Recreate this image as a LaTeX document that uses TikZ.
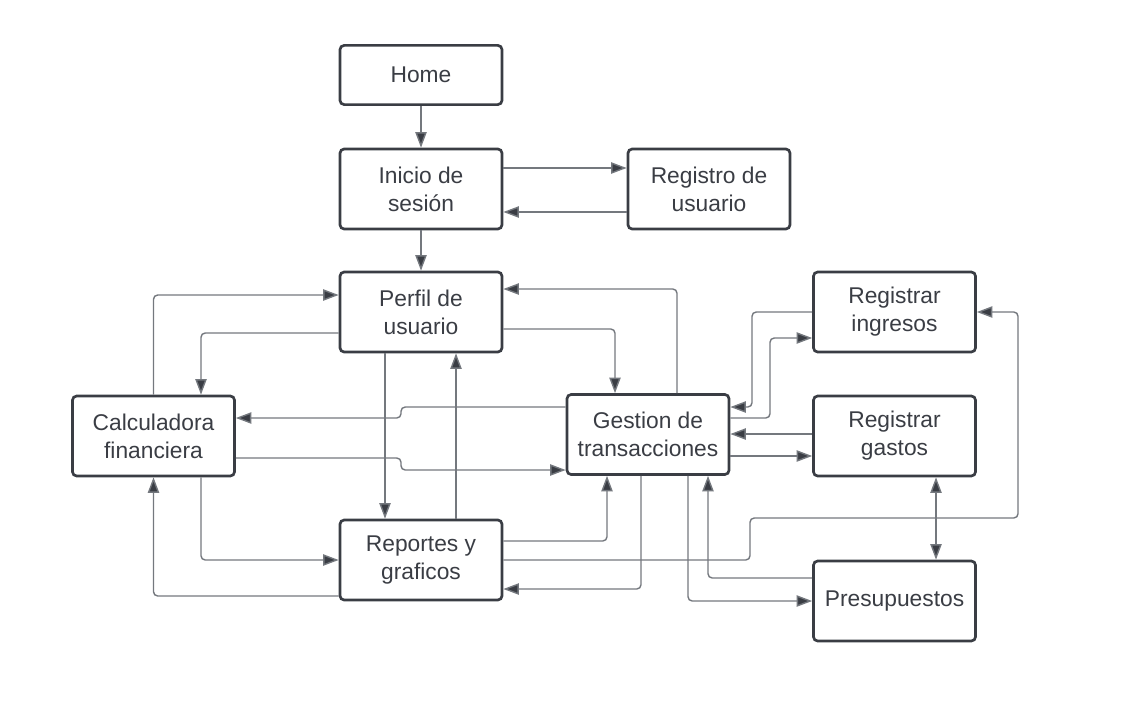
\documentclass[tikz,border=0pt]{standalone}
\usepackage{fontspec}
\setmainfont{Liberation Sans}
\usetikzlibrary{arrows.meta}
\definecolor{boxline}{HTML}{3A3D44}
\definecolor{linkline}{HTML}{74787E}
\definecolor{txt}{HTML}{3A3D44}
\begin{document}
\begin{tikzpicture}[x=0.025cm,y=-0.025cm,
  box/.style={draw=boxline, line width=1.9pt, rounded corners=3pt, align=center,
    minimum width=4.05cm, minimum height=2.0cm, text=txt,
    font=\fontsize{16.2}{20}\selectfont},
  link/.style={draw=linkline, line width=1pt, rounded corners=3pt,
    -{Triangle[length=11pt,width=8pt,fill=boxline]}},
  both/.style={link, {Triangle[length=11pt,width=8pt,fill=boxline]}-{Triangle[length=11pt,width=8pt,fill=boxline]}}]
\useasboundingbox (0,0) rectangle (1124,716);

\node[box, minimum height=1.48cm] (home) at (421,75) {Home};
\node[box] (inicio) at (421,189) {Inicio de\\sesión};
\node[box] (registro) at (709,189) {Registro de\\usuario};
\node[box] (perfil) at (421,312) {Perfil de\\usuario};
\node[box] (ingresos) at (894.5,312) {Registrar\\ingresos};
\node[box] (calc) at (153.5,436) {Calculadora\\financiera};
\node[box] (gestion) at (648,434.5) {Gestion de\\transacciones};
\node[box] (gastos) at (894.5,436) {Registrar\\gastos};
\node[box] (reportes) at (421,560) {Reportes y\\graficos};
\node[box] (presup) at (894.5,601) {Presupuestos};

\draw[link] (home) -- (inicio);
\draw[link] (inicio.east |- 0,168) -- (registro.west |- 0,168);
\draw[link] (registro.west |- 0,212) -- (inicio.east |- 0,212);
\draw[link] (inicio) -- (perfil);

\draw[link] (calc.north) |- (perfil.west |- 0,295);
\draw[link] (perfil.west |- 0,333) -| (calc.north -| 201,0);
\draw[link] (perfil.south -| 385,0) -- (reportes.north -| 385,0);
\draw[link] (reportes.north -| 456,0) -- (perfil.south -| 456,0);
\draw[link] (perfil.east |- 0,329) -| (gestion.north -| 615,0);
\draw[link] (gestion.north -| 677,0) |- (perfil.east |- 0,289);

\draw[link] (gestion.west |- 0,407) -| (401,418) -- (calc.east |- 0,418);
\draw[link] (calc.east |- 0,458) -| (401,470) -- (gestion.west |- 0,470);
\draw[link] (calc.south -| 201,0) |- (reportes.west |- 0,560);
\draw[link] (reportes.west |- 0,596) -| (calc.south);
\draw[link] (reportes.east |- 0,541) -| (gestion.south -| 607,0);
\draw[link] (gestion.south -| 641,0) |- (reportes.east |- 0,589);

\draw[link] (reportes.east |- 0,560) -| (750,518) -| (1018,312) -- (ingresos.east |- 0,312);
\draw[link] (ingresos.west |- 0,312) -| (752,407) -- (gestion.east |- 0,407);
\draw[link] (gestion.east |- 0,418) -| (770,338) -- (ingresos.west |- 0,338);
\draw[link] (gastos.west |- 0,434) -- (gestion.east |- 0,434);
\draw[link] (gestion.east |- 0,456) -- (gastos.west |- 0,456);
\draw[both] (gastos.south -| 936,0) -- (presup.north -| 936,0);
\draw[link] (presup.west |- 0,578) -| (gestion.south -| 708,0);
\draw[link] (gestion.south -| 688,0) |- (presup.west |- 0,601);
\end{tikzpicture}
\end{document}
